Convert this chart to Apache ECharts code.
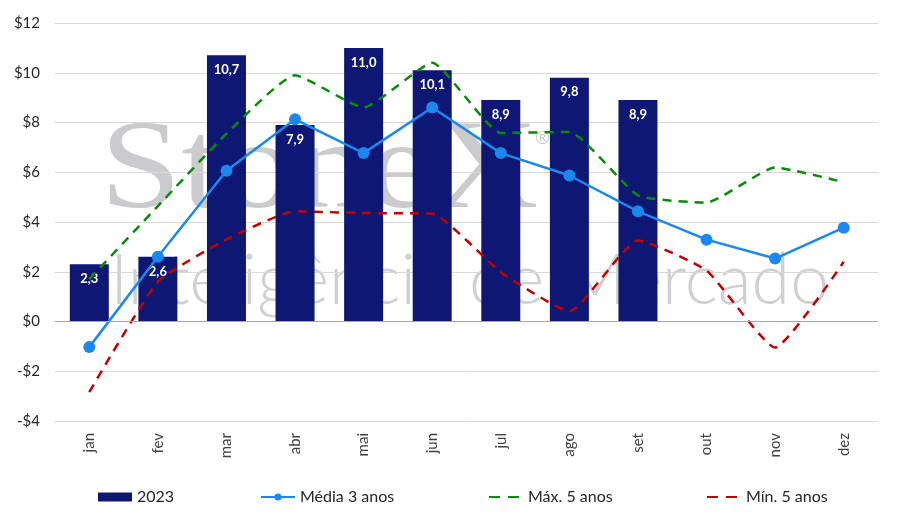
<!DOCTYPE html>
<html>
<head>
<meta charset="utf-8">
<script src="https://cdn.jsdelivr.net/npm/echarts@6/dist/echarts.min.js"></script>
<style>html,body{margin:0;padding:0;background:#fff}#c{width:920px;height:517px}</style>
</head>
<body>
<div id="c"></div>
<script>
const categories = ['jan','fev','mar','abr','mai','jun','jul','ago','set','out','nov','dez'];
const yTicks = [-4,-2,0,2,4,6,8,10,12];
const bars2023 = [2.3, 2.6, 10.7, 7.9, 11.0, 10.1, 8.9, 9.8, 8.9, null, null, null];
const media3 = [-1.03, 2.6, 6.06, 8.13, 6.77, 8.6, 6.77, 5.87, 4.43, 3.29, 2.53, 3.77];
const max5 = [1.7, 4.64, 7.55, 9.9, 8.6, 10.4, 7.58, 7.62, 5.07, 4.78, 6.19, 5.6];
const min5 = [-2.84, 1.6, 3.3, 4.43, 4.36, 4.33, 1.98, 0.41, 3.26, 2.05, -1.05, 2.4];
const names = ['2023', 'Média 3 anos', 'Máx. 5 anos', 'Mín. 5 anos'];

const FONT = 'Lato, "Noto Sans", sans-serif';
const chart = echarts.init(document.getElementById('c'), null, {renderer: 'canvas'});
const fmtNum = v => v.toFixed(1).replace('.', ',');

const legendBase = {
  top: 484, itemWidth: 34, itemHeight: 9,
  textStyle: {fontSize: 16, color: '#262626', fontFamily: FONT}
};

chart.setOption({
  animation: false,
  backgroundColor: '#fff',
  textStyle: {fontFamily: FONT},
  grid: {left: 55, right: 42, top: 23, bottom: 96, containLabel: false},
  graphic: [
    {type: 'text', x: 100, y: 111, scaleX: 1.16, z: -10, silent: true,
     style: {text: 'StoneX', font: '126px "Liberation Serif", "DejaVu Serif", serif', fill: '#cbcbce'}},
    {type: 'text', left: 535, top: 129, z: -10, silent: true,
     style: {text: '®', font: '18px ' + FONT, fill: '#cbcbce'}},
    {type: 'text', x: 110, y: 246, z: -10, silent: true,
     style: {text: 'Inteligência de Mercado', font: '300 70px ' + FONT, fill: '#d0d0d3'}}
  ],
  legend: [
    Object.assign({left: 93, data: [{name: names[0], icon: 'rect'}]}, legendBase),
    Object.assign({left: 255, data: [{name: names[1]}]}, legendBase),
    Object.assign({left: 483, data: [{name: names[2], itemStyle: {opacity: 0}, lineStyle: {type: [11, 8]}}]}, legendBase),
    Object.assign({left: 701, data: [{name: names[3], itemStyle: {opacity: 0}, lineStyle: {type: [11, 8]}}]}, legendBase)
  ],
  xAxis: {
    type: 'category', data: categories,
    axisLine: {show: false, onZero: false},
    axisTick: {show: false},
    axisLabel: {rotate: 90, color: '#404040', fontSize: 15, margin: 12, fontFamily: FONT},
    splitLine: {show: false}
  },
  yAxis: {
    type: 'value', min: -4, max: 12, interval: 2,
    axisLine: {show: false}, axisTick: {show: false},
    axisLabel: {color: '#262626', fontSize: 15, margin: 15, fontFamily: FONT,
      formatter: v => (v < 0 ? '-$' + Math.abs(v) : '$' + v)},
    splitLine: {lineStyle: {color: '#d9d9d9', width: 1}}
  },
  series: [
    {
      name: names[0], type: 'bar', data: bars2023, barWidth: 39,
      itemStyle: {color: '#0e1874'},
      label: {show: true, position: 'insideTop', distance: 8, color: '#fff',
        fontWeight: 'bold', fontSize: 13, fontFamily: FONT,
        formatter: p => fmtNum(p.value)},
      markLine: {silent: true, symbol: 'none', label: {show: false},
        lineStyle: {color: '#a6a6a6', width: 1.2, type: 'solid'},
        data: [{yAxis: 0}]},
      z: 2
    },
    {
      name: names[2], type: 'line', data: max5, smooth: 0.15,
      symbol: 'none', lineStyle: {color: '#0a8a0a', width: 2.5, type: [9, 7]},
      itemStyle: {color: '#0a8a0a'}, z: 3
    },
    {
      name: names[3], type: 'line', data: min5, smooth: 0.15,
      symbol: 'none', lineStyle: {color: '#c00000', width: 2.5, type: [9, 7]},
      itemStyle: {color: '#c00000'}, z: 3
    },
    {
      name: names[1], type: 'line', data: media3,
      symbol: 'circle', symbolSize: 12,
      lineStyle: {color: '#1a88ee', width: 2.5},
      itemStyle: {color: '#1a88ee'}, z: 4
    }
  ]
});
</script>
</body>
</html>
